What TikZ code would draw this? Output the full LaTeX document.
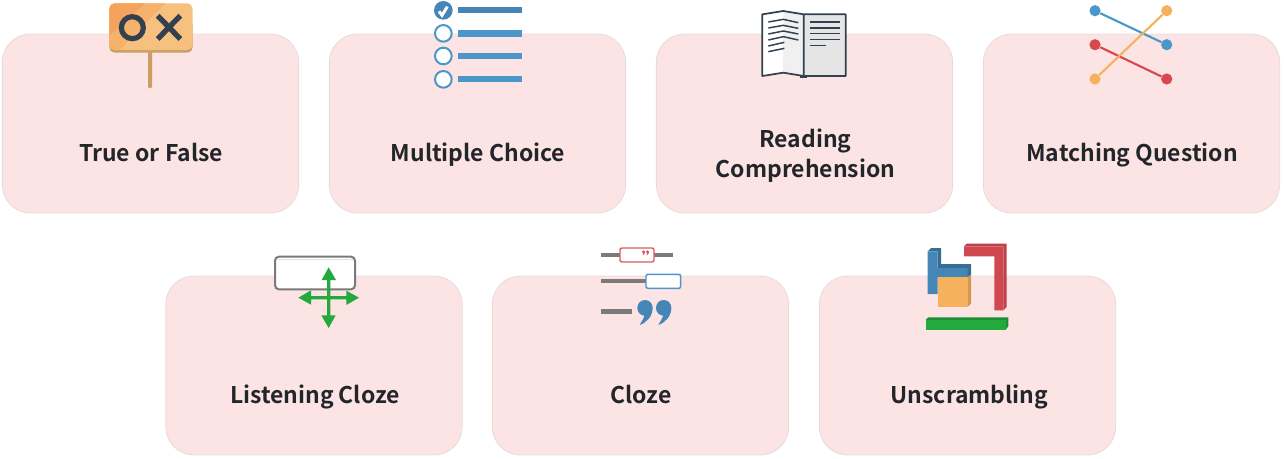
\documentclass[tikz,border=0pt]{standalone}
\usepackage{fontspec}
\usepackage{xcolor}
\setmainfont{Noto Sans CJK KR Bold}
\definecolor{cardfill}{HTML}{FCE4E4}
\definecolor{carddraw}{HTML}{E6DCDC}
\definecolor{inkdark}{HTML}{222529}
\definecolor{slate}{HTML}{34404F}
\definecolor{qblue}{HTML}{4B97C9}
\definecolor{qbluedark}{HTML}{4586B6}
\definecolor{qbluedeep}{HTML}{356F95}
\definecolor{qred}{HTML}{D9474F}
\definecolor{blockred}{HTML}{CF4850}
\definecolor{blockreddark}{HTML}{BF4048}
\definecolor{qorange}{HTML}{F6B15F}
\definecolor{qorangedark}{HTML}{D09A55}
\definecolor{qgreen}{HTML}{22AA3C}
\definecolor{qgreendark}{HTML}{1E8F36}
\definecolor{qgray}{HTML}{7A7A7A}
\definecolor{signbase}{HTML}{F6C07F}
\definecolor{signmid}{HTML}{F6B26B}
\definecolor{signtop}{HTML}{F5A25D}
\definecolor{signedge}{HTML}{C99F63}
\tikzset{
  card/.style={draw=carddraw, line width=0.6pt, fill=cardfill, rounded corners=21pt,
    minimum width=222.2pt, minimum height=134.2pt, inner sep=0pt},
  cardtext/.style={inner sep=0pt, align=center, text=inkdark, text height=14pt, text depth=4pt,
    font=\fontsize{17.2}{22.5}\selectfont},
  dot/.style={circle, fill=#1, minimum size=8.4pt, inner sep=0pt},
  link/.style={line width=1.6pt, #1},
  bar/.style={line width=#1, qgray},
  pics/closequote/.style={code={
    \fill[#1] (23,0) .. controls (36,0) and (46,10) .. (46,24)
      .. controls (46,48) and (28,68) .. (7,75)
      .. controls (14,62) and (20,54) .. (21,47)
      .. controls (9,46) and (0,36) .. (0,24)
      .. controls (0,10) and (10,0) .. (23,0) -- cycle;
  }}
}
\begin{document}
\begin{tikzpicture}[x=0.75pt,y=-0.75pt]
\useasboundingbox (0,0) rectangle (1284,458);

% Cards, top row
\node[card] (truefalse) at (150.5,123.5) {};
\node[card] (multiple) at (477.5,123.5) {};
\node[card] (reading) at (804.5,123.5) {};
\node[card] (matching) at (1131.5,123.5) {};

% Cards, bottom row
\node[card] (listening) at (314,365.5) {};
\node[card] (cloze) at (640.5,365.5) {};
\node[card] (unscramble) at (967.5,365.5) {};

% Card labels
\node[cardtext] (truefalsetext) at (151,155.3) {True or False};
\node[cardtext] (multipletext) at (478,155.3) {Multiple Choice};
\node[cardtext] (readingtext) at (805.5,170.6) {Reading\\Comprehension};
\node[cardtext] (matchingtext) at (1132,155.3) {Matching Question};
\node[cardtext] (listeningtext) at (315,397.3) {Listening Cloze};
\node[cardtext] (clozetext) at (641,397.3) {Cloze};
\node[cardtext] (unscrambletext) at (969.5,397.3) {Unscrambling};

% Icon: sign board
\begin{scope}[shift={(90,0)},scale=1/3]
\fill[signedge, rounded corners=1.5pt] (174,150) rectangle (186,265);
\fill[signedge, rounded corners=4pt] (58,60) rectangle (308,158);
\fill[rounded corners=4pt, fill=signbase] (58,10) rectangle (308,150);
\begin{scope}
\clip[rounded corners=4pt] (58,10) rectangle (308,150);
\fill[signmid] (58,10) -- (225,10) -- (90,150) -- (58,150) -- cycle;
\fill[signtop] (58,10) -- (165,10) -- (58,105) -- cycle;
\end{scope}
\draw[slate, line width=3.9pt] (127,83) circle (33);
\draw[slate, line width=4pt] (203,47) -- (271,117) (271,47) -- (203,117);
\end{scope}

% Icon: check list
\begin{scope}[shift={(420,0)},scale=1/3]
\fill[qbluedark] (70,31) circle (28);
\draw[white, line width=2.2pt] (57,34) -- (66,46) -- (82,20);
\foreach \yy in {100,168,238} {
  \draw[qblue, line width=1.5pt, fill=white] (70,\yy) circle (25);
}
\fill[qbluedark] (115,20) rectangle (306,40);
\foreach \yy in {100,168,237} {
  \fill[qblue] (115,\yy-10) rectangle (306,\yy+10);
}
\end{scope}

% Icon: open book
\begin{scope}[shift={(750,0)},scale=1/3]
\fill[white] (37,43) -- (100,33) -- (100,218) -- (37,228) -- cycle;
\fill[black!6] (100,33) -- (160,43) -- (160,228) -- (100,218) -- cycle;
\fill[black!10] (160,43) rectangle (287,228);
\fill[slate] (150,228) rectangle (172,234);
\draw[slate, line width=1.3pt, line join=round] (37,43) -- (100,33) -- (161,43) -- (161,228)
  -- (100,218) -- (37,228) -- cycle (161,43) -- (287,43) -- (287,228) -- (161,228);
\draw[slate, line width=1.1pt] (55,66) -- (100,58) -- (145,68)
  (55,84) -- (100,76) -- (145,85)
  (55,102) -- (100,93) -- (145,102)
  (55,120) -- (100,110) -- (145,120)
  (55,138) -- (103,127) (55,155) -- (103,145);
\foreach \yy in {66,84,101,119} {
  \draw[slate, line width=1.1pt] (180,\yy) -- (270,\yy);
}
\draw[slate, line width=1.1pt] (180,137) -- (227,137);
\end{scope}

% Icon: matching dots
\node[dot=qblue] (lefta) at (1095,10.7) {};
\node[dot=qred] (leftb) at (1095,44.7) {};
\node[dot=qorange] (leftc) at (1095,79) {};
\node[dot=qorange] (righta) at (1166.7,10.7) {};
\node[dot=qblue] (rightb) at (1166.7,44.7) {};
\node[dot=qred] (rightc) at (1166.7,79) {};
\draw[link=qblue] (lefta) -- (rightb);
\draw[link=qred] (leftb) -- (rightc);
\draw[link=qorange] (leftc) -- (righta);

% Icon: drag box
\begin{scope}[shift={(260,245)},scale=1/3]
\draw[qgray, line width=1.5pt, fill=white, rounded corners=3pt] (45,35) rectangle (285,133);
\draw[black!12, line width=0.9pt] (54,44) -- (278,44);
\foreach \ang in {0,90,180,270} {
  \fill[qgreen, rotate around={\ang:(206,158)}] (206,153) -- (259,153) -- (259,137)
    -- (297,158) -- (259,180) -- (259,163) -- (206,163) -- cycle;
}
\end{scope}

% Icon: cloze lines
\begin{scope}[shift={(590,240)},scale=1/3]
\draw[bar=3.6pt] (33,45) -- (248,45);
\draw[bar=3.6pt] (33,123) -- (170,123);
\draw[bar=3.6pt] (33,214) -- (125,214);
\draw[qred!90!white, line width=1.1pt, fill=white, rounded corners=1.5pt] (90,24) rectangle (192,66);
\draw[qblue, line width=1.1pt, fill=white, rounded corners=1.5pt] (168,103) rectangle (272,145);
\pic[transform shape, scale=0.2] at (156,31) {closequote=qred};
\pic[transform shape, scale=0.2] at (168,31) {closequote=qred};
\pic[transform shape] at (142,180) {closequote=qbluedark};
\pic[transform shape] at (198,180) {closequote=qbluedark};
\end{scope}

% Icon: scrambled blocks
\begin{scope}[shift={(915,238)},scale=1/3]
\fill[qbluedeep] (38,40) -- (48,30) -- (78,30) -- (78,78) -- (168,78) -- (168,110) -- (158,118) -- (68,118) -- (68,40) -- cycle;
\fill[qbluedark] (38,40) -- (68,40) -- (68,90) -- (158,90) -- (158,118) -- (68,118) -- (68,168) -- (38,168) -- cycle;
\fill[qorangedark] (158,118) -- (168,110) -- (168,197) -- (158,207) -- cycle;
\fill[qorange] (68,118) rectangle (158,207);
\fill[blockreddark] (147,25) -- (155,17) -- (275,17) -- (275,207) -- (265,217) -- (265,25) -- cycle;
\fill[blockred] (147,25) -- (265,25) -- (265,217) -- (238,217) -- (238,55) -- (147,55) -- cycle;
\fill[qgreendark] (32,246) -- (40,238) -- (280,238) -- (280,265) -- (272,275) -- (272,246) -- cycle;
\fill[qgreen] (32,246) rectangle (272,275);
\end{scope}
\end{tikzpicture}
\end{document}
